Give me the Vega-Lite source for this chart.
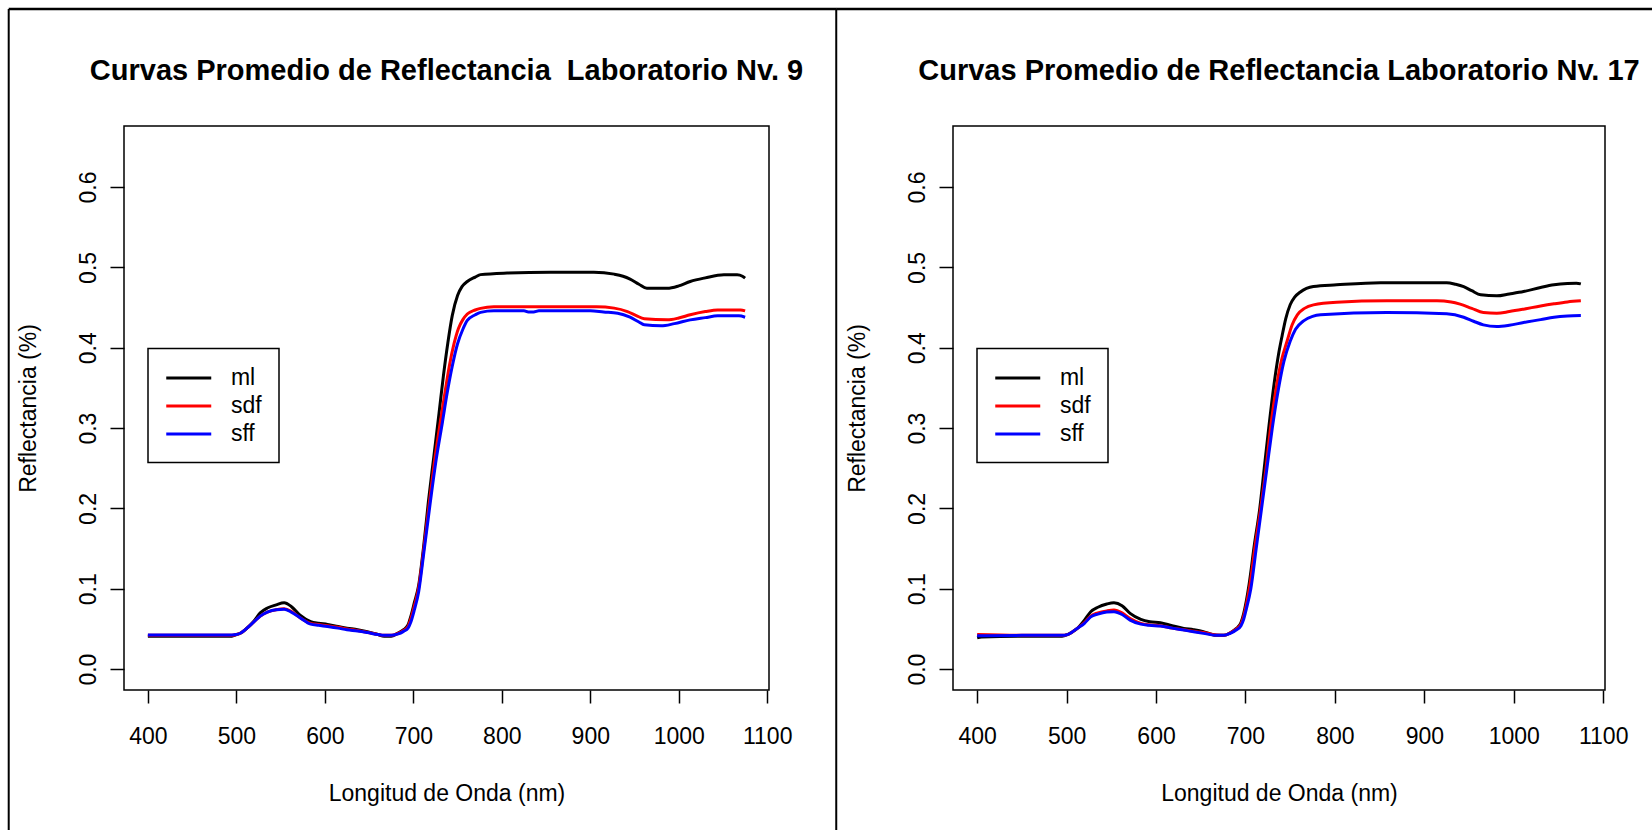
{
  "$schema": "https://vega.github.io/schema/vega-lite/v6.json",
  "autosize": "pad",
  "padding": {"left": 6, "top": 6, "right": 0, "bottom": 0},
  "background": "white",
  "bounds": "flush",
  "spacing": 184,
  "datasets": {
    "frame": [{}],
    "nv9": [
      {"wl": 400, "serie": "ml", "r": 0.041}, {"wl": 450, "serie": "ml", "r": 0.041}, {"wl": 495, "serie": "ml", "r": 0.041},
      {"wl": 500, "serie": "ml", "r": 0.043}, {"wl": 505, "serie": "ml", "r": 0.045}, {"wl": 512, "serie": "ml", "r": 0.051},
      {"wl": 520, "serie": "ml", "r": 0.060}, {"wl": 527, "serie": "ml", "r": 0.070}, {"wl": 535, "serie": "ml", "r": 0.076},
      {"wl": 545, "serie": "ml", "r": 0.080}, {"wl": 554, "serie": "ml", "r": 0.0826}, {"wl": 562, "serie": "ml", "r": 0.078},
      {"wl": 572, "serie": "ml", "r": 0.067}, {"wl": 584, "serie": "ml", "r": 0.059}, {"wl": 593, "serie": "ml", "r": 0.057},
      {"wl": 603, "serie": "ml", "r": 0.0557}, {"wl": 615, "serie": "ml", "r": 0.053}, {"wl": 625, "serie": "ml", "r": 0.051},
      {"wl": 637, "serie": "ml", "r": 0.049}, {"wl": 648, "serie": "ml", "r": 0.0465}, {"wl": 660, "serie": "ml", "r": 0.043},
      {"wl": 667, "serie": "ml", "r": 0.041}, {"wl": 675, "serie": "ml", "r": 0.041}, {"wl": 682, "serie": "ml", "r": 0.0445},
      {"wl": 689, "serie": "ml", "r": 0.049}, {"wl": 694, "serie": "ml", "r": 0.055}, {"wl": 697, "serie": "ml", "r": 0.065},
      {"wl": 701, "serie": "ml", "r": 0.082}, {"wl": 706, "serie": "ml", "r": 0.104}, {"wl": 712, "serie": "ml", "r": 0.156},
      {"wl": 717, "serie": "ml", "r": 0.208}, {"wl": 723, "serie": "ml", "r": 0.263}, {"wl": 729, "serie": "ml", "r": 0.318},
      {"wl": 734, "serie": "ml", "r": 0.365}, {"wl": 739, "serie": "ml", "r": 0.406}, {"wl": 744, "serie": "ml", "r": 0.440},
      {"wl": 750, "serie": "ml", "r": 0.465}, {"wl": 755, "serie": "ml", "r": 0.476}, {"wl": 761, "serie": "ml", "r": 0.4825},
      {"wl": 770, "serie": "ml", "r": 0.488}, {"wl": 776, "serie": "ml", "r": 0.491}, {"wl": 806, "serie": "ml", "r": 0.493},
      {"wl": 855, "serie": "ml", "r": 0.494}, {"wl": 904, "serie": "ml", "r": 0.494}, {"wl": 927, "serie": "ml", "r": 0.4916},
      {"wl": 937, "serie": "ml", "r": 0.489}, {"wl": 945, "serie": "ml", "r": 0.4854}, {"wl": 955, "serie": "ml", "r": 0.479},
      {"wl": 964, "serie": "ml", "r": 0.474}, {"wl": 987, "serie": "ml", "r": 0.474}, {"wl": 1000, "serie": "ml", "r": 0.477},
      {"wl": 1013, "serie": "ml", "r": 0.4825}, {"wl": 1030, "serie": "ml", "r": 0.487}, {"wl": 1051, "serie": "ml", "r": 0.4908},
      {"wl": 1066, "serie": "ml", "r": 0.4908}, {"wl": 1072, "serie": "ml", "r": 0.489}, {"wl": 1075, "serie": "ml", "r": 0.4867},

      {"wl": 400, "serie": "sdf", "r": 0.042}, {"wl": 450, "serie": "sdf", "r": 0.042}, {"wl": 495, "serie": "sdf", "r": 0.042},
      {"wl": 500, "serie": "sdf", "r": 0.043}, {"wl": 505, "serie": "sdf", "r": 0.045}, {"wl": 512, "serie": "sdf", "r": 0.051},
      {"wl": 520, "serie": "sdf", "r": 0.059}, {"wl": 527, "serie": "sdf", "r": 0.066}, {"wl": 535, "serie": "sdf", "r": 0.071},
      {"wl": 545, "serie": "sdf", "r": 0.074}, {"wl": 554, "serie": "sdf", "r": 0.075}, {"wl": 562, "serie": "sdf", "r": 0.072},
      {"wl": 572, "serie": "sdf", "r": 0.064}, {"wl": 584, "serie": "sdf", "r": 0.057}, {"wl": 593, "serie": "sdf", "r": 0.0555},
      {"wl": 603, "serie": "sdf", "r": 0.054}, {"wl": 615, "serie": "sdf", "r": 0.052}, {"wl": 625, "serie": "sdf", "r": 0.050},
      {"wl": 637, "serie": "sdf", "r": 0.048}, {"wl": 648, "serie": "sdf", "r": 0.046}, {"wl": 660, "serie": "sdf", "r": 0.043},
      {"wl": 667, "serie": "sdf", "r": 0.042}, {"wl": 675, "serie": "sdf", "r": 0.042}, {"wl": 682, "serie": "sdf", "r": 0.044},
      {"wl": 689, "serie": "sdf", "r": 0.048}, {"wl": 694, "serie": "sdf", "r": 0.053}, {"wl": 697, "serie": "sdf", "r": 0.062},
      {"wl": 701, "serie": "sdf", "r": 0.078}, {"wl": 706, "serie": "sdf", "r": 0.101}, {"wl": 712, "serie": "sdf", "r": 0.151},
      {"wl": 718, "serie": "sdf", "r": 0.206}, {"wl": 724, "serie": "sdf", "r": 0.259}, {"wl": 731, "serie": "sdf", "r": 0.311},
      {"wl": 736, "serie": "sdf", "r": 0.346}, {"wl": 741, "serie": "sdf", "r": 0.379}, {"wl": 746, "serie": "sdf", "r": 0.405},
      {"wl": 751, "serie": "sdf", "r": 0.424}, {"wl": 756, "serie": "sdf", "r": 0.435}, {"wl": 761, "serie": "sdf", "r": 0.442},
      {"wl": 770, "serie": "sdf", "r": 0.447}, {"wl": 776, "serie": "sdf", "r": 0.449}, {"wl": 791, "serie": "sdf", "r": 0.451},
      {"wl": 850, "serie": "sdf", "r": 0.451}, {"wl": 907, "serie": "sdf", "r": 0.451}, {"wl": 927, "serie": "sdf", "r": 0.4493},
      {"wl": 942, "serie": "sdf", "r": 0.445}, {"wl": 952, "serie": "sdf", "r": 0.440}, {"wl": 961, "serie": "sdf", "r": 0.436},
      {"wl": 987, "serie": "sdf", "r": 0.4347}, {"wl": 1000, "serie": "sdf", "r": 0.437}, {"wl": 1013, "serie": "sdf", "r": 0.441},
      {"wl": 1030, "serie": "sdf", "r": 0.445}, {"wl": 1044, "serie": "sdf", "r": 0.447}, {"wl": 1070, "serie": "sdf", "r": 0.447},
      {"wl": 1075, "serie": "sdf", "r": 0.4459},

      {"wl": 400, "serie": "sff", "r": 0.0425}, {"wl": 450, "serie": "sff", "r": 0.0425}, {"wl": 495, "serie": "sff", "r": 0.0425},
      {"wl": 500, "serie": "sff", "r": 0.043}, {"wl": 505, "serie": "sff", "r": 0.045}, {"wl": 512, "serie": "sff", "r": 0.051},
      {"wl": 520, "serie": "sff", "r": 0.059}, {"wl": 527, "serie": "sff", "r": 0.066}, {"wl": 535, "serie": "sff", "r": 0.071},
      {"wl": 545, "serie": "sff", "r": 0.074}, {"wl": 554, "serie": "sff", "r": 0.0745}, {"wl": 562, "serie": "sff", "r": 0.071},
      {"wl": 572, "serie": "sff", "r": 0.064}, {"wl": 584, "serie": "sff", "r": 0.056}, {"wl": 593, "serie": "sff", "r": 0.0545},
      {"wl": 603, "serie": "sff", "r": 0.053}, {"wl": 615, "serie": "sff", "r": 0.051}, {"wl": 625, "serie": "sff", "r": 0.049},
      {"wl": 637, "serie": "sff", "r": 0.0475}, {"wl": 648, "serie": "sff", "r": 0.0455}, {"wl": 660, "serie": "sff", "r": 0.043},
      {"wl": 667, "serie": "sff", "r": 0.042}, {"wl": 675, "serie": "sff", "r": 0.042}, {"wl": 682, "serie": "sff", "r": 0.0435},
      {"wl": 689, "serie": "sff", "r": 0.047}, {"wl": 694, "serie": "sff", "r": 0.051}, {"wl": 697, "serie": "sff", "r": 0.058},
      {"wl": 701, "serie": "sff", "r": 0.073}, {"wl": 706, "serie": "sff", "r": 0.096}, {"wl": 712, "serie": "sff", "r": 0.146},
      {"wl": 719, "serie": "sff", "r": 0.206}, {"wl": 726, "serie": "sff", "r": 0.262}, {"wl": 733, "serie": "sff", "r": 0.308},
      {"wl": 738, "serie": "sff", "r": 0.342}, {"wl": 744, "serie": "sff", "r": 0.377}, {"wl": 750, "serie": "sff", "r": 0.405},
      {"wl": 756, "serie": "sff", "r": 0.423}, {"wl": 761, "serie": "sff", "r": 0.434}, {"wl": 770, "serie": "sff", "r": 0.441},
      {"wl": 776, "serie": "sff", "r": 0.444}, {"wl": 791, "serie": "sff", "r": 0.4459}, {"wl": 825, "serie": "sff", "r": 0.4459},
      {"wl": 830, "serie": "sff", "r": 0.4445}, {"wl": 836, "serie": "sff", "r": 0.4445}, {"wl": 842, "serie": "sff", "r": 0.4459},
      {"wl": 900, "serie": "sff", "r": 0.4459}, {"wl": 915, "serie": "sff", "r": 0.4445}, {"wl": 931, "serie": "sff", "r": 0.443},
      {"wl": 945, "serie": "sff", "r": 0.438}, {"wl": 955, "serie": "sff", "r": 0.432}, {"wl": 961, "serie": "sff", "r": 0.4285},
      {"wl": 980, "serie": "sff", "r": 0.4273}, {"wl": 995, "serie": "sff", "r": 0.430}, {"wl": 1013, "serie": "sff", "r": 0.4347},
      {"wl": 1030, "serie": "sff", "r": 0.4375}, {"wl": 1044, "serie": "sff", "r": 0.4397}, {"wl": 1068, "serie": "sff", "r": 0.4397},
      {"wl": 1075, "serie": "sff", "r": 0.438}
    ],
    "nv17": [
      {"wl": 400, "serie": "ml", "r": 0.039}, {"wl": 405, "serie": "ml", "r": 0.040}, {"wl": 450, "serie": "ml", "r": 0.041},
      {"wl": 495, "serie": "ml", "r": 0.041}, {"wl": 501, "serie": "ml", "r": 0.043}, {"wl": 506, "serie": "ml", "r": 0.046},
      {"wl": 512, "serie": "ml", "r": 0.0507}, {"wl": 520, "serie": "ml", "r": 0.061}, {"wl": 527, "serie": "ml", "r": 0.0714},
      {"wl": 535, "serie": "ml", "r": 0.077}, {"wl": 545, "serie": "ml", "r": 0.081}, {"wl": 553, "serie": "ml", "r": 0.0826},
      {"wl": 562, "serie": "ml", "r": 0.079}, {"wl": 571, "serie": "ml", "r": 0.0694}, {"wl": 583, "serie": "ml", "r": 0.062},
      {"wl": 593, "serie": "ml", "r": 0.059}, {"wl": 605, "serie": "ml", "r": 0.0577}, {"wl": 618, "serie": "ml", "r": 0.054},
      {"wl": 631, "serie": "ml", "r": 0.0507}, {"wl": 642, "serie": "ml", "r": 0.049}, {"wl": 653, "serie": "ml", "r": 0.0465},
      {"wl": 660, "serie": "ml", "r": 0.044}, {"wl": 668, "serie": "ml", "r": 0.042}, {"wl": 676, "serie": "ml", "r": 0.042},
      {"wl": 683, "serie": "ml", "r": 0.0452}, {"wl": 690, "serie": "ml", "r": 0.0507}, {"wl": 695, "serie": "ml", "r": 0.058},
      {"wl": 698, "serie": "ml", "r": 0.069}, {"wl": 701, "serie": "ml", "r": 0.085}, {"wl": 704, "serie": "ml", "r": 0.105},
      {"wl": 710, "serie": "ml", "r": 0.155}, {"wl": 716, "serie": "ml", "r": 0.200}, {"wl": 721, "serie": "ml", "r": 0.250},
      {"wl": 726, "serie": "ml", "r": 0.300}, {"wl": 732, "serie": "ml", "r": 0.355}, {"wl": 737, "serie": "ml", "r": 0.392},
      {"wl": 741, "serie": "ml", "r": 0.415}, {"wl": 745, "serie": "ml", "r": 0.436}, {"wl": 750, "serie": "ml", "r": 0.4535},
      {"wl": 755, "serie": "ml", "r": 0.463}, {"wl": 761, "serie": "ml", "r": 0.469}, {"wl": 776, "serie": "ml", "r": 0.4762},
      {"wl": 802, "serie": "ml", "r": 0.4783}, {"wl": 851, "serie": "ml", "r": 0.481}, {"wl": 925, "serie": "ml", "r": 0.481},
      {"wl": 935, "serie": "ml", "r": 0.479}, {"wl": 944, "serie": "ml", "r": 0.476}, {"wl": 953, "serie": "ml", "r": 0.471},
      {"wl": 963, "serie": "ml", "r": 0.4659}, {"wl": 981, "serie": "ml", "r": 0.4646}, {"wl": 995, "serie": "ml", "r": 0.467},
      {"wl": 1011, "serie": "ml", "r": 0.470}, {"wl": 1030, "serie": "ml", "r": 0.475}, {"wl": 1045, "serie": "ml", "r": 0.4783},
      {"wl": 1060, "serie": "ml", "r": 0.480}, {"wl": 1070, "serie": "ml", "r": 0.4804}, {"wl": 1075, "serie": "ml", "r": 0.4795},

      {"wl": 400, "serie": "sdf", "r": 0.043}, {"wl": 450, "serie": "sdf", "r": 0.042}, {"wl": 495, "serie": "sdf", "r": 0.042},
      {"wl": 501, "serie": "sdf", "r": 0.043}, {"wl": 506, "serie": "sdf", "r": 0.046}, {"wl": 512, "serie": "sdf", "r": 0.0507},
      {"wl": 520, "serie": "sdf", "r": 0.058}, {"wl": 527, "serie": "sdf", "r": 0.066}, {"wl": 535, "serie": "sdf", "r": 0.070},
      {"wl": 545, "serie": "sdf", "r": 0.0725}, {"wl": 553, "serie": "sdf", "r": 0.0735}, {"wl": 562, "serie": "sdf", "r": 0.070},
      {"wl": 571, "serie": "sdf", "r": 0.063}, {"wl": 583, "serie": "sdf", "r": 0.057}, {"wl": 593, "serie": "sdf", "r": 0.055},
      {"wl": 605, "serie": "sdf", "r": 0.054}, {"wl": 618, "serie": "sdf", "r": 0.051}, {"wl": 631, "serie": "sdf", "r": 0.049},
      {"wl": 642, "serie": "sdf", "r": 0.047}, {"wl": 653, "serie": "sdf", "r": 0.0455}, {"wl": 668, "serie": "sdf", "r": 0.0424},
      {"wl": 676, "serie": "sdf", "r": 0.042}, {"wl": 683, "serie": "sdf", "r": 0.045}, {"wl": 690, "serie": "sdf", "r": 0.050},
      {"wl": 695, "serie": "sdf", "r": 0.056}, {"wl": 698, "serie": "sdf", "r": 0.066}, {"wl": 701, "serie": "sdf", "r": 0.080},
      {"wl": 705, "serie": "sdf", "r": 0.105}, {"wl": 711, "serie": "sdf", "r": 0.155}, {"wl": 717, "serie": "sdf", "r": 0.200},
      {"wl": 723, "serie": "sdf", "r": 0.250}, {"wl": 728, "serie": "sdf", "r": 0.300}, {"wl": 734, "serie": "sdf", "r": 0.347},
      {"wl": 740, "serie": "sdf", "r": 0.383}, {"wl": 747, "serie": "sdf", "r": 0.410}, {"wl": 752, "serie": "sdf", "r": 0.428},
      {"wl": 758, "serie": "sdf", "r": 0.441}, {"wl": 766, "serie": "sdf", "r": 0.449}, {"wl": 776, "serie": "sdf", "r": 0.4534},
      {"wl": 802, "serie": "sdf", "r": 0.4567}, {"wl": 858, "serie": "sdf", "r": 0.4584}, {"wl": 914, "serie": "sdf", "r": 0.4584},
      {"wl": 930, "serie": "sdf", "r": 0.457}, {"wl": 940, "serie": "sdf", "r": 0.4543}, {"wl": 953, "serie": "sdf", "r": 0.449},
      {"wl": 966, "serie": "sdf", "r": 0.4438}, {"wl": 981, "serie": "sdf", "r": 0.443}, {"wl": 995, "serie": "sdf", "r": 0.445},
      {"wl": 1011, "serie": "sdf", "r": 0.448}, {"wl": 1030, "serie": "sdf", "r": 0.452}, {"wl": 1045, "serie": "sdf", "r": 0.4547},
      {"wl": 1060, "serie": "sdf", "r": 0.457}, {"wl": 1075, "serie": "sdf", "r": 0.4584},

      {"wl": 400, "serie": "sff", "r": 0.0415}, {"wl": 450, "serie": "sff", "r": 0.042}, {"wl": 495, "serie": "sff", "r": 0.042},
      {"wl": 501, "serie": "sff", "r": 0.043}, {"wl": 506, "serie": "sff", "r": 0.046}, {"wl": 512, "serie": "sff", "r": 0.0507},
      {"wl": 520, "serie": "sff", "r": 0.057}, {"wl": 527, "serie": "sff", "r": 0.065}, {"wl": 535, "serie": "sff", "r": 0.0685},
      {"wl": 545, "serie": "sff", "r": 0.071}, {"wl": 553, "serie": "sff", "r": 0.0714}, {"wl": 562, "serie": "sff", "r": 0.068},
      {"wl": 571, "serie": "sff", "r": 0.061}, {"wl": 583, "serie": "sff", "r": 0.056}, {"wl": 593, "serie": "sff", "r": 0.0545},
      {"wl": 605, "serie": "sff", "r": 0.0536}, {"wl": 618, "serie": "sff", "r": 0.051}, {"wl": 631, "serie": "sff", "r": 0.0486},
      {"wl": 642, "serie": "sff", "r": 0.0465}, {"wl": 653, "serie": "sff", "r": 0.0445}, {"wl": 668, "serie": "sff", "r": 0.042},
      {"wl": 676, "serie": "sff", "r": 0.042}, {"wl": 683, "serie": "sff", "r": 0.0445}, {"wl": 690, "serie": "sff", "r": 0.049},
      {"wl": 695, "serie": "sff", "r": 0.054}, {"wl": 698, "serie": "sff", "r": 0.062}, {"wl": 701, "serie": "sff", "r": 0.075},
      {"wl": 706, "serie": "sff", "r": 0.100}, {"wl": 712, "serie": "sff", "r": 0.150}, {"wl": 718, "serie": "sff", "r": 0.200},
      {"wl": 724, "serie": "sff", "r": 0.250}, {"wl": 730, "serie": "sff", "r": 0.300}, {"wl": 736, "serie": "sff", "r": 0.343},
      {"wl": 743, "serie": "sff", "r": 0.383}, {"wl": 750, "serie": "sff", "r": 0.408}, {"wl": 756, "serie": "sff", "r": 0.423},
      {"wl": 765, "serie": "sff", "r": 0.4335}, {"wl": 775, "serie": "sff", "r": 0.439}, {"wl": 784, "serie": "sff", "r": 0.441},
      {"wl": 858, "serie": "sff", "r": 0.4438}, {"wl": 925, "serie": "sff", "r": 0.4422}, {"wl": 944, "serie": "sff", "r": 0.438},
      {"wl": 955, "serie": "sff", "r": 0.433}, {"wl": 966, "serie": "sff", "r": 0.4285}, {"wl": 981, "serie": "sff", "r": 0.4264},
      {"wl": 995, "serie": "sff", "r": 0.428}, {"wl": 1011, "serie": "sff", "r": 0.4314}, {"wl": 1030, "serie": "sff", "r": 0.435},
      {"wl": 1045, "serie": "sff", "r": 0.438}, {"wl": 1060, "serie": "sff", "r": 0.4395}, {"wl": 1075, "serie": "sff", "r": 0.440}
    ]
  },
  "hconcat": [
    {
      "width": 645,
      "height": 564,
      "title": {"text": "Curvas Promedio de Reflectancia\u00a0 Laboratorio Nv. 9"},
      "layer": [
        {
          "data": {"name": "nv9"},
          "mark": {"type": "line", "strokeWidth": 3, "interpolate": "monotone"},
          "encoding": {
            "x": {"field": "wl", "type": "quantitative", "scale": {"domain": [373, 1102], "nice": false, "zero": false},
                  "axis": {"title": "Longitud de Onda (nm)", "values": [400, 500, 600, 700, 800, 900, 1000, 1100], "format": "d"}},
            "y": {"field": "r", "type": "quantitative", "scale": {"domain": [-0.026, 0.676], "nice": false, "zero": false},
                  "axis": {"title": "Reflectancia (%)", "values": [0, 0.1, 0.2, 0.3, 0.4, 0.5, 0.6], "format": ".1f"}},
            "color": {"field": "serie", "type": "nominal",
                      "scale": {"domain": ["ml", "sdf", "sff"], "range": ["#000000", "#FF0000", "#0000FF"]},
                      "legend": {"title": null, "orient": "none", "legendX": 24, "legendY": 222.5}}
          }
        },
        {
          "data": {"name": "frame"},
          "mark": {"type": "rule", "color": "#000000", "strokeWidth": 2},
          "encoding": {"x": {"datum": 242.7, "type": "quantitative"}, "y": {"datum": -0.21, "type": "quantitative"}, "y2": {"datum": 0.8216}}
        },
        {
          "data": {"name": "frame"},
          "mark": {"type": "rule", "color": "#000000", "strokeWidth": 2},
          "encoding": {"x": {"datum": 1178, "type": "quantitative"}, "y": {"datum": -0.21, "type": "quantitative"}, "y2": {"datum": 0.8216}}
        },
        {
          "data": {"name": "frame"},
          "mark": {"type": "rule", "color": "#000000", "strokeWidth": 2.7},
          "encoding": {"x": {"datum": 242.7, "type": "quantitative"}, "x2": {"datum": 1178}, "y": {"datum": 0.8216, "type": "quantitative"}}
        }
      ]
    },
    {
      "width": 652,
      "height": 564,
      "title": {"text": "Curvas Promedio de Reflectancia Laboratorio Nv. 17"},
      "layer": [
        {
          "data": {"name": "nv17"},
          "mark": {"type": "line", "strokeWidth": 3, "interpolate": "monotone"},
          "encoding": {
            "x": {"field": "wl", "type": "quantitative", "scale": {"domain": [373, 1102], "nice": false, "zero": false},
                  "axis": {"title": "Longitud de Onda (nm)", "values": [400, 500, 600, 700, 800, 900, 1000, 1100], "format": "d"}},
            "y": {"field": "r", "type": "quantitative", "scale": {"domain": [-0.026, 0.676], "nice": false, "zero": false},
                  "axis": {"title": "Reflectancia (%)", "values": [0, 0.1, 0.2, 0.3, 0.4, 0.5, 0.6], "format": ".1f"}},
            "color": {"field": "serie", "type": "nominal",
                      "scale": {"domain": ["ml", "sdf", "sff"], "range": ["#000000", "#FF0000", "#0000FF"]},
                      "legend": {"title": null, "orient": "none", "legendX": 24, "legendY": 222.5}}
          }
        },
        {
          "data": {"name": "frame"},
          "mark": {"type": "rule", "color": "#000000", "strokeWidth": 2.7},
          "encoding": {"x": {"datum": 242.3, "type": "quantitative"}, "x2": {"datum": 1160}, "y": {"datum": 0.8216, "type": "quantitative"}}
        }
      ]
    }
  ],
  "resolve": {"legend": {"color": "independent"}, "scale": {"x": "independent", "y": "independent"}},
  "config": {
    "font": "Liberation Sans",
    "view": {"stroke": "#000000", "strokeWidth": 1.5},
    "axis": {"domain": false, "grid": false, "tickColor": "#000000", "tickWidth": 1.5,
             "labelColor": "#000000", "labelFontSize": 23, "labelFont": "Liberation Sans",
             "titleColor": "#000000", "titleFontSize": 23, "titleFontWeight": "normal", "titleFont": "Liberation Sans"},
    "axisX": {"tickSize": 13, "labelPadding": 40, "labelBaseline": "alphabetic", "labelAlign": "center", "labelAngle": 0,
              "titleY": 110, "titleBaseline": "alphabetic", "labelFlush": false, "labelOverlap": false},
    "axisY": {"tickSize": 14, "labelPadding": 15, "labelAngle": 270, "labelAlign": "center", "labelBaseline": "alphabetic",
              "titleX": -89, "titleY": 282, "titleAngle": 270, "titleAlign": "center", "titleBaseline": "alphabetic", "labelFlush": false, "labelOverlap": false},
    "legend": {"symbolType": "M-1,0H3", "symbolSize": 506, "symbolStrokeWidth": 3, "labelFontSize": 23, "labelColor": "#000000",
               "labelFont": "Liberation Sans", "labelOffset": 40.4, "padding": 16.5, "rowPadding": 3, "strokeColor": "#000000",
               "strokeWidth": 1.5, "fillColor": "#FFFFFF"},
    "title": {"fontSize": 29, "fontWeight": "bold", "font": "Liberation Sans", "color": "#000000", "anchor": "middle",
              "frame": "group", "offset": -78, "baseline": "alphabetic"}
  }
}
